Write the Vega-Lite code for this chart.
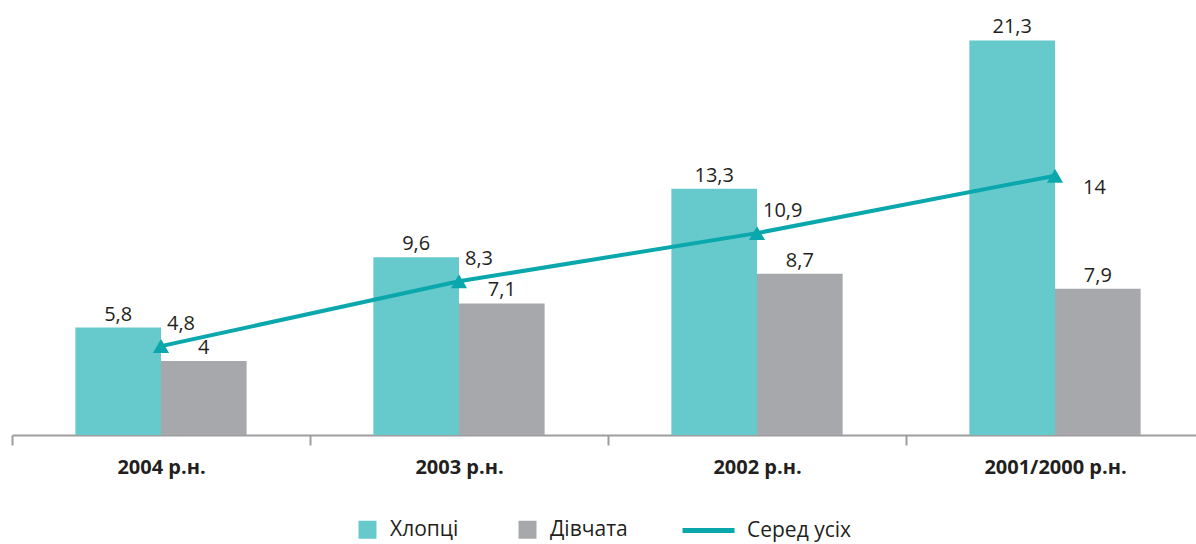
{
  "$schema": "https://vega.github.io/schema/vega-lite/v6.json",
  "width": 1184,
  "height": 426,
  "autosize": {"type": "none"},
  "padding": {"left": 12, "top": 9, "right": 0, "bottom": 109},
  "background": "white",
  "config": {
    "view": {"stroke": null},
    "font": "Open Sans",
    "locale": {"number": {"decimal": ",", "thousands": " ", "grouping": [3], "currency": ["", ""]}},
    "legend": {
      "orient": "bottom",
      "direction": "horizontal",
      "title": null,
      "labelFontSize": 21,
      "labelColor": "#231f20",
      "labelFont": "Open Sans",
      "offset": 41,
      "layout": {"bottom": {"anchor": "middle", "direction": "horizontal", "margin": 52, "center": true}}
    }
  },
  "datasets": {
    "bars": [
      {"group": "2004 р.н.", "series": "Хлопці", "value": 5.8},
      {"group": "2004 р.н.", "series": "Дівчата", "value": 4.0},
      {"group": "2003 р.н.", "series": "Хлопці", "value": 9.6},
      {"group": "2003 р.н.", "series": "Дівчата", "value": 7.1},
      {"group": "2002 р.н.", "series": "Хлопці", "value": 13.3},
      {"group": "2002 р.н.", "series": "Дівчата", "value": 8.7},
      {"group": "2001/2000 р.н.", "series": "Хлопці", "value": 21.3},
      {"group": "2001/2000 р.н.", "series": "Дівчата", "value": 7.9}
    ],
    "avg": [
      {"group": "2004 р.н.", "value": 4.8},
      {"group": "2003 р.н.", "value": 8.3},
      {"group": "2002 р.н.", "value": 10.9},
      {"group": "2001/2000 р.н.", "value": 14.0}
    ]
  },
  "encoding": {
    "x": {
      "field": "group",
      "type": "nominal",
      "sort": ["2004 р.н.", "2003 р.н.", "2002 р.н.", "2001/2000 р.н."],
      "scale": {"paddingInner": 0, "paddingOuter": 0, "range": [0, 1192]},
      "axis": {
        "title": null,
        "labelAngle": 0,
        "tickBand": "extent",
        "grid": false,
        "domainColor": "#9d9d9f",
        "domainWidth": 2,
        "tickColor": "#9d9d9f",
        "tickWidth": 2,
        "tickSize": 10,
        "labelPadding": 12,
        "labelFontSize": 20,
        "labelFontWeight": "bold",
        "labelColor": "#231f20",
        "labelFont": "Open Sans"
      }
    },
    "y": {"field": "value", "type": "quantitative", "scale": {"domain": [0, 23], "nice": false}, "axis": null}
  },
  "layer": [
    {
      "data": {"name": "bars"},
      "mark": {"type": "bar"},
      "encoding": {
        "xOffset": {"field": "series", "type": "nominal", "sort": ["Хлопці", "Дівчата"], "scale": {"paddingInner": 0, "paddingOuter": 0.74}},
        "fill": {
          "field": "series",
          "type": "nominal",
          "scale": {"domain": ["Хлопці", "Дівчата"], "range": ["#66c9cc", "#a7a8ab"]},
          "legend": {"symbolType": "square", "symbolSize": 324, "symbolStrokeWidth": 0, "columnPadding": 58, "labelOffset": 12}
        }
      }
    },
    {
      "data": {"name": "bars"},
      "mark": {"type": "text", "baseline": "bottom", "dy": -3, "fontSize": 20, "color": "#231f20"},
      "encoding": {
        "xOffset": {"field": "series", "type": "nominal", "sort": ["Хлопці", "Дівчата"], "scale": {"paddingInner": 0, "paddingOuter": 0.74}},
        "text": {"field": "value", "type": "quantitative", "format": ".1~f"}
      }
    },
    {
      "data": {"name": "avg"},
      "mark": {"type": "line", "strokeWidth": 4},
      "encoding": {
        "stroke": {
          "datum": "Серед усіх",
          "type": "nominal",
          "scale": {"domain": ["Серед усіх"], "range": ["#0aa8ad"]},
          "legend": {"symbolType": "M-1,0H4.2", "symbolSize": 400, "symbolStrokeWidth": 5, "labelOffset": 42}
        }
      }
    },
    {
      "data": {"name": "avg"},
      "mark": {"type": "point", "shape": "triangle-up", "filled": true, "size": 260, "color": "#0aa8ad", "opacity": 1}
    },
    {
      "data": {"name": "avg"},
      "transform": [{"filter": "datum.value < 12"}],
      "mark": {"type": "text", "align": "left", "baseline": "middle", "dx": 6, "dy": -22, "fontSize": 20, "color": "#231f20"},
      "encoding": {"text": {"field": "value", "type": "quantitative", "format": ".1~f"}}
    },
    {
      "data": {"name": "avg"},
      "transform": [{"filter": "datum.value >= 12"}],
      "mark": {"type": "text", "align": "left", "baseline": "middle", "dx": 28, "dy": 12, "fontSize": 20, "color": "#231f20"},
      "encoding": {"text": {"field": "value", "type": "quantitative", "format": ".1~f"}}
    }
  ]
}
